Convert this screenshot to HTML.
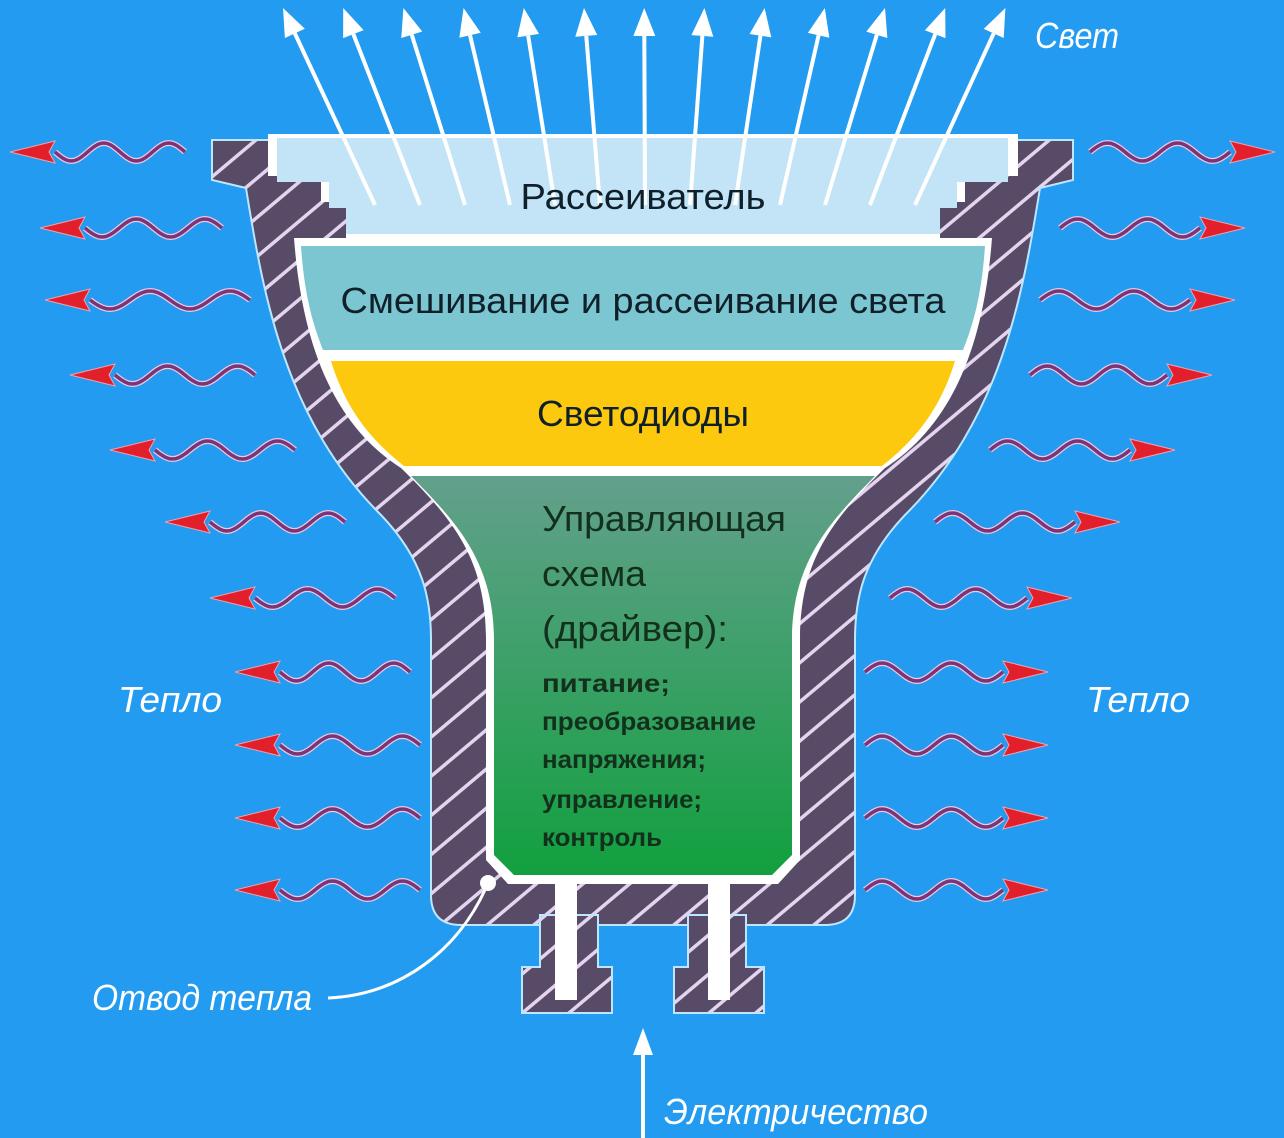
<!DOCTYPE html>
<html><head><meta charset="utf-8"><style>
html,body{margin:0;padding:0;background:#229bf0;}
svg{display:block}
</style></head><body>
<svg id="s" width="1284" height="1138" viewBox="0 0 1284 1138" xmlns="http://www.w3.org/2000/svg">
<defs>
<pattern id="h" patternUnits="userSpaceOnUse" width="30" height="30" patternTransform="rotate(50)">
<rect width="30" height="30" fill="#584b68"/>
<rect x="0" y="0" width="3.5" height="30" fill="#e4d4ee"/>
</pattern>
<linearGradient id="g" x1="0" y1="0" x2="0" y2="1">
<stop offset="0" stop-color="#63a08c"/><stop offset="0.5" stop-color="#3aa066"/><stop offset="1" stop-color="#12a03e"/>
</linearGradient>
</defs>
<rect width="1284" height="1138" fill="#229bf0"/>
<g id="heat"></g>
<g stroke="#bfe6ff" stroke-width="2" fill="url(#h)">
<path d="M212,140 L1073,140 L1073,180 L1040,188 C1022,300 1000,420 905,515 C862,560 855,600 855,640 L855,895 Q855,925 825,925 L461,925 Q431,925 431,895 L431,640 C431,600 424,560 381,515 C286,420 264,300 246,188 L212,180 Z"/>
<path d="M540,915 L598,915 L598,967 L612,967 L612,1013 L522,1013 L522,967 L540,967 Z"/>
<path d="M688,915 L746,915 L746,967 L764,967 L764,1013 L674,1013 L674,967 L688,967 Z"/>
</g>
<rect x="555" y="875" width="22" height="125" fill="#fff"/>
<rect x="708" y="875" width="22" height="125" fill="#fff"/>
<path d="M268,134 L1018,134 L1018,176 L965,176 L965,202 L940,202 L940,238 L992,238 C985,330 960,420 885,468 C832,520 800,560 800,640 L800,860 L778,884 L508,884 L486,860 L486,640 C486,560 454,520 401,468 C326,420 301,330 294,238 L346,238 L346,202 L321,202 L321,176 L268,176 Z" fill="#fff"/>
<path d="M277,138 L1008,138 L1008,182 L957,182 L957,208 L940,208 L940,234 L346,234 L346,208 L329,208 L329,182 L277,182 Z" fill="#c2e4f6"/>
<path d="M301,246 L985,246 C982,290 975,320 963,350 L323,350 C311,320 304,290 301,246 Z" fill="#7cc6d2"/>
<path d="M331,361 L955,361 C940,410 915,440 882,466 L404,466 C371,440 346,410 331,361 Z" fill="#fdc90e"/>
<path d="M411,476 L875,476 C832,520 792,560 792,640 L792,855 L772,875 L514,875 L494,855 L494,640 C494,560 454,520 411,476 Z" fill="url(#g)"/>
<g id="light"></g>
<g font-family="'Liberation Sans Narrow','Liberation Sans',sans-serif" fill="#10202a" text-anchor="middle">
<text x="643" y="209" font-size="36" textLength="245" lengthAdjust="spacingAndGlyphs">Рассеиватель</text>
<text x="643" y="313" font-size="36" textLength="605" lengthAdjust="spacingAndGlyphs">Смешивание и рассеивание света</text>
<text x="643" y="426" font-size="36" textLength="212" lengthAdjust="spacingAndGlyphs">Светодиоды</text>
</g>
<g font-family="'Liberation Sans Narrow','Liberation Sans',sans-serif" fill="#12301c">
<text x="542" y="531" font-size="36" textLength="244" lengthAdjust="spacingAndGlyphs">Управляющая</text>
<text x="542" y="586" font-size="36" textLength="104" lengthAdjust="spacingAndGlyphs">схема</text>
<text x="542" y="641" font-size="36" textLength="186" lengthAdjust="spacingAndGlyphs">(драйвер):</text>
<g font-size="25" font-weight="bold">
<text x="542" y="692" textLength="128" lengthAdjust="spacingAndGlyphs">питание;</text>
<text x="542" y="730" textLength="214" lengthAdjust="spacingAndGlyphs">преобразование</text>
<text x="542" y="768" textLength="164" lengthAdjust="spacingAndGlyphs">напряжения;</text>
<text x="542" y="808" textLength="160" lengthAdjust="spacingAndGlyphs">управление;</text>
<text x="542" y="846" textLength="120" lengthAdjust="spacingAndGlyphs">контроль</text>
</g></g>
<g font-family="'Liberation Sans Narrow','Liberation Sans',sans-serif" fill="#fff" font-style="italic" font-size="36">
<text x="1035" y="48" textLength="84" lengthAdjust="spacingAndGlyphs">Свет</text>
<text x="118" y="712" textLength="104" lengthAdjust="spacingAndGlyphs">Тепло</text>
<text x="1086" y="712" textLength="104" lengthAdjust="spacingAndGlyphs">Тепло</text>
<text x="92" y="1010" textLength="220" lengthAdjust="spacingAndGlyphs">Отвод тепла</text>
<text x="664" y="1124" textLength="264" lengthAdjust="spacingAndGlyphs">Электричество</text>
</g>
<path d="M328,998 C400,995 460,950 488,883" stroke="#fff" stroke-width="3" fill="none"/>
<circle cx="488" cy="883" r="8" fill="#fff"/>
<line x1="643" y1="1138" x2="643" y2="1050" stroke="#fff" stroke-width="4"/>
<polygon points="643,1028 633,1055 653,1055" fill="#fff"/>
</svg>
<script>
var NS="http://www.w3.org/2000/svg";
function el(p,t,a){var e=document.createElementNS(NS,t);for(var k in a)e.setAttribute(k,a[k]);p.appendChild(e);return e;}
var L=document.getElementById('light');
for(var i=0;i<13;i++){
 var bx=375+i*45, by=205, tx=283+i*60.2, ty=8;
 var dx=tx-bx, dy=ty-by, len=Math.sqrt(dx*dx+dy*dy), ux=dx/len, uy=dy/len;
 var hx=tx-ux*28, hy=ty-uy*28;
 el(L,'line',{x1:bx,y1:by,x2:hx,y2:hy,stroke:'#fff','stroke-width':4});
 el(L,'polygon',{points:tx+','+ty+' '+(hx-uy*11)+','+(hy+ux*11)+' '+(hx+uy*11)+','+(hy-ux*11),fill:'#fff'});
}
var H=document.getElementById('heat');
var ys=[152,228,300,375,450,522,598,672,745,818,890];
var lx=[[10,185],[40,222],[45,250],[70,255],[110,295],[165,345],[210,395],[235,410],[235,420],[235,420],[235,420]];
var rx=[[1090,1275],[1060,1245],[1040,1235],[1030,1212],[990,1175],[935,1120],[890,1072],[865,1048],[865,1048],[865,1048],[865,1048]];
function heat(x1,x2,y,dir){
 var head=45, a=dir<0?x1:x2, ws=dir<0?x1+head:x1, we=dir<0?x2:x2-head;
 var d='',n=40;
 for(var k=0;k<=n;k++){var x=ws+(we-ws)*k/n;var ph=(dir<0?(x-ws):(we-x))/((we-ws)/2)*Math.PI*2;var yy=y+9*Math.sin(ph);d+=(k?'L':'M')+x.toFixed(1)+','+yy.toFixed(1);}
 el(H,'path',{d:d,stroke:'#f0c8e0','stroke-width':6,fill:'none'});
 el(H,'path',{d:d,stroke:'#7a3478','stroke-width':3.5,fill:'none'});
 var b=dir<0?x1+head:x2-head;
 el(H,'polygon',{points:a+','+y+' '+b+','+(y-11)+' '+(b-dir*-6)+','+y+' '+b+','+(y+11),fill:'#e2202c',stroke:'#f3a0b0','stroke-width':1});
}
for(var i=0;i<ys.length;i++){heat(lx[i][0],lx[i][1],ys[i],-1);heat(rx[i][0],rx[i][1],ys[i],1);}
</script>
</body></html>
